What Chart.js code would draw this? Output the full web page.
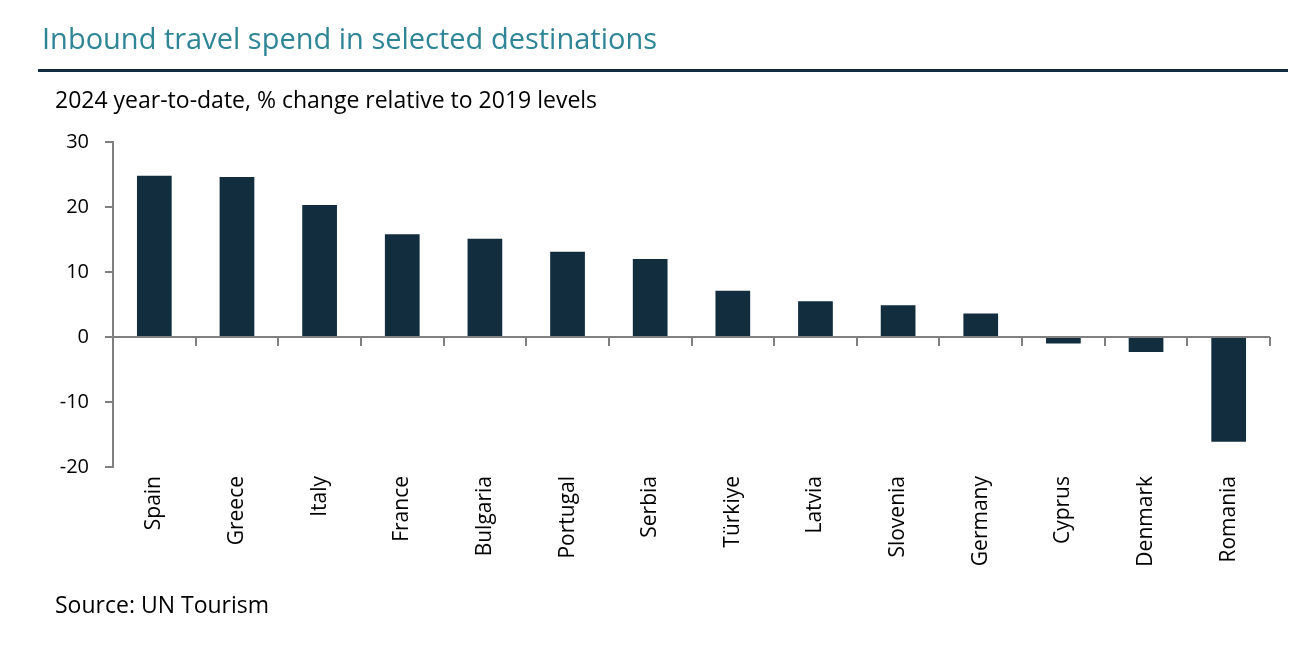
<!DOCTYPE html>
<html><head><meta charset="utf-8">
<script src="https://cdn.jsdelivr.net/npm/chart.js@4"></script>
<style>
html,body{margin:0;padding:0;background:#fff;}
#wrap{position:relative;width:1304px;height:647px;overflow:hidden;}
canvas{position:absolute;left:0;top:0;}
.t{position:absolute;white-space:nowrap;font-family:"Open Sans",Lato,sans-serif;line-height:1.35;}
#title{left:42px;top:18px;font-size:29px;color:#2f8598;}
#rule{position:absolute;left:38px;top:69px;width:1250px;height:3px;background:#132d3e;}
#sub{left:55px;top:84px;font-size:23px;color:#000;}
#src{left:55px;top:589px;font-size:23px;color:#000;}
</style></head><body>
<div id="wrap">
<canvas id="c" width="1304" height="647"></canvas>
<div class="t" id="title">Inbound travel spend in selected destinations</div>
<div id="rule"></div>
<div class="t" id="sub">2024 year-to-date, % change relative to 2019 levels</div>
<div class="t" id="src">Source: UN Tourism</div>
</div>
<script>
const categories = ["Spain","Greece","Italy","France","Bulgaria","Portugal","Serbia","Türkiye","Latvia","Slovenia","Germany","Cyprus","Denmark","Romania"];
const values = [24.8,24.6,20.3,15.8,15.1,13.1,12.0,7.1,5.5,4.9,3.6,-1.0,-2.3,-16.1];
const yTicks = [30,20,10,0,-10,-20];

const AXIS = "#808080";
const zeroAxis = {
  id:"zeroAxis",
  afterDatasetsDraw(chart){
    const {ctx, chartArea:a, scales:{x,y}} = chart;
    const y0 = y.getPixelForValue(0);
    ctx.save();
    ctx.strokeStyle = AXIS; ctx.lineWidth = 2;
    ctx.beginPath(); ctx.moveTo(a.left, y0); ctx.lineTo(a.right, y0); ctx.stroke();
    const n = categories.length;
    for (let i=1;i<=n;i++){
      const px = i<n ? (x.getPixelForValue(i-1)+x.getPixelForValue(i))/2 : a.right;
      ctx.beginPath(); ctx.moveTo(Math.round(px), y0); ctx.lineTo(Math.round(px), y0+9); ctx.stroke();
    }
    ctx.restore();
  }
};

new Chart(document.getElementById("c"), {
  type:"bar",
  data:{labels:categories, datasets:[{data:values, backgroundColor:"#112d3e", categoryPercentage:1, barPercentage:0.42}]},
  options:{
    responsive:false, animation:false, devicePixelRatio:1,
    layout:{padding:{top:142,right:34,left:0,bottom:0}},
    plugins:{legend:{display:false}, tooltip:{enabled:false}},
    scales:{
      x:{
        offset:true,
        grid:{display:false, drawTicks:false},
        border:{display:false},
        ticks:{autoSkip:false, minRotation:90, maxRotation:90, padding:9, color:"#000", font:{family:"Open Sans", size:21}},
        afterFit(s){ s.height = 180; }
      },
      y:{
        min:-20, max:30,
        afterBuildTicks(s){ s.ticks = yTicks.map(v=>({value:v})); },
        grid:{drawOnChartArea:false, tickLength:8, color:AXIS, lineWidth:2},
        border:{display:true, color:AXIS, width:2},
        ticks:{color:"#000", padding:16, font:{family:"Open Sans", size:20}},
        afterFit(s){ s.width = 113; }
      }
    }
  },
  plugins:[zeroAxis]
});
</script>
</body></html>
